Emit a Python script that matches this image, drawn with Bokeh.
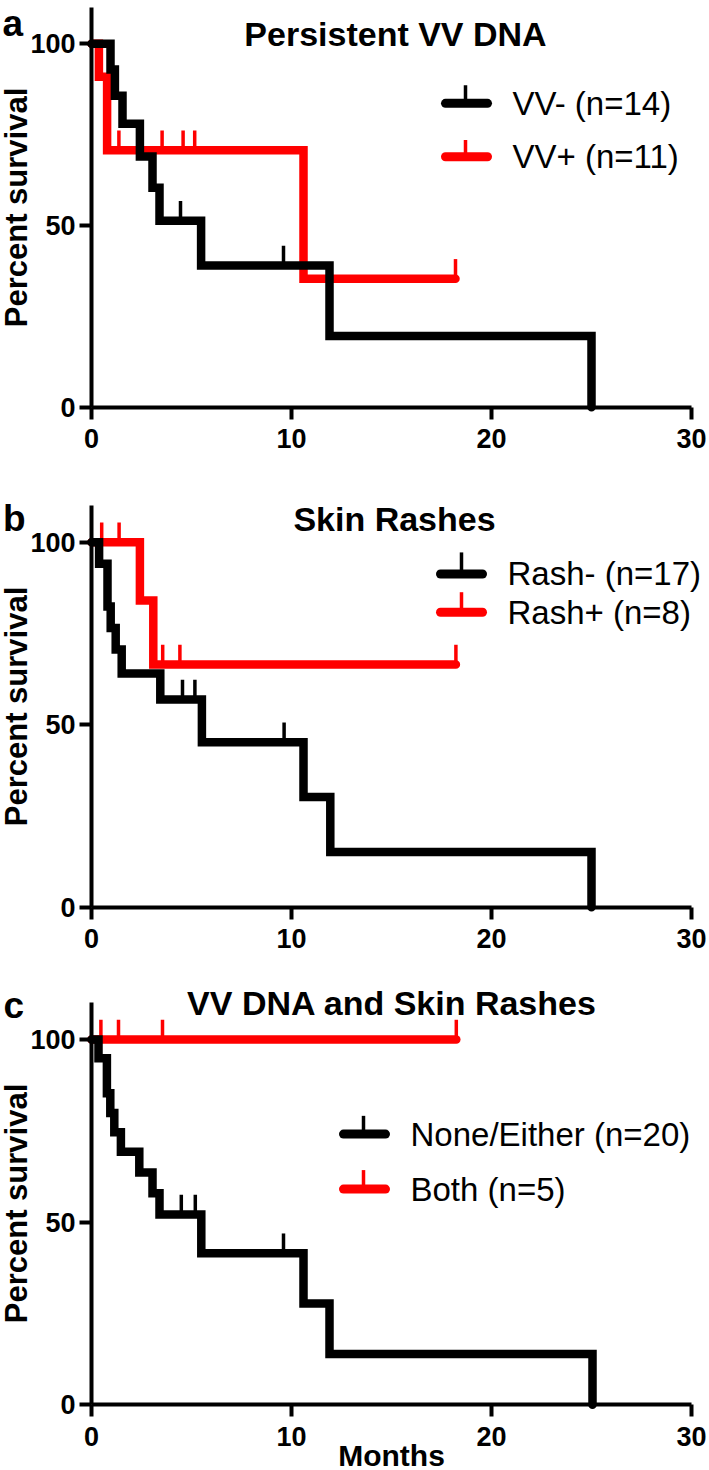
from bokeh.plotting import figure
from bokeh.models import Range1d, Label
from bokeh.layouts import column
from bokeh.embed import file_html
from bokeh.resources import INLINE

# ---------------- data ----------------
x_ticks = [0, 10, 20, 30]
y_ticks = [0, 50, 100]

a_letter = "a"
a_title = "Persistent VV DNA"
a_black_name = "VV- (n=14)"
a_black_t = [0, 0.95, 1.17, 1.55, 2.42, 3.05, 3.40, 5.48, 11.9, 25.0]
a_black_s = [100, 92.9, 85.7, 78.0, 69.0, 60.4, 51.3, 39.0, 19.6, 0]
a_black_cens = [4.45, 9.6]
a_red_name = "VV+ (n=11)"
a_red_t = [0, 0.37, 0.78, 10.6, 18.2]
a_red_s = [100, 90.9, 70.7, 35.35, 35.35]
a_red_cens = [1.37, 3.53, 4.58, 5.16, 18.2]

b_letter = "b"
b_title = "Skin Rashes"
b_black_name = "Rash- (n=17)"
b_black_t = [0, 0.38, 0.80, 0.96, 1.21, 1.51, 3.44, 5.52, 10.6, 11.94, 25.0]
b_black_s = [100, 94.1, 82.4, 76.5, 70.6, 64.0, 56.9, 45.2, 30.2, 15.1, 0]
b_black_cens = [4.55, 5.17, 9.63]
b_red_name = "Rash+ (n=8)"
b_red_t = [0, 2.42, 3.09, 18.22]
b_red_s = [100, 84.0, 66.5, 66.5]
b_red_cens = [0.51, 1.38, 3.56, 4.42, 18.22]

c_letter = "c"
c_title = "VV DNA and Skin Rashes"
c_black_name = "None/Either (n=20)"
c_black_t = [0, 0.35, 0.77, 0.94, 1.14, 1.47, 2.39, 3.05, 3.40, 5.49, 10.6, 11.9, 25.05]
c_black_s = [100, 94.9, 85.3, 79.9, 74.6, 69.3, 63.6, 57.9, 52.1, 41.5, 27.7, 13.9, 0]
c_black_cens = [4.49, 5.19, 9.6]
c_red_name = "Both (n=5)"
c_red_t = [0, 18.24]
c_red_s = [100, 100]
c_red_cens = [0.47, 1.35, 3.55, 18.24]

x_label = "Months"
y_label = "Percent survival"

# ---------------- style ----------------
FONT = "Liberation Sans"
BLACK = "#000000"
RED = "#ff0000"
TICK_LEN = 5.4
LINE_W = 8.5


def level_at(ts, ss, tc):
    lv = ss[0]
    for t, s in zip(ts, ss):
        if t <= tc:
            lv = s
    return lv


def make_panel(height, y_lo, y_hi, letter, letter_pos, title, title_pos,
               series, legend, xlabel=None):
    p = figure(width=709, height=height,
               x_range=Range1d(-4.55, 30.9), y_range=Range1d(y_lo, y_hi),
               output_backend="svg", toolbar_location=None, min_border=0)
    p.outline_line_color = None
    p.grid.visible = False
    p.background_fill_color = "white"
    p.border_fill_color = "white"

    for ax in (p.xaxis[0], p.yaxis[0]):
        ax.fixed_location = 0
        ax.axis_line_width = 4
        ax.axis_line_color = BLACK
        ax.major_tick_line_width = 4
        ax.major_tick_line_color = BLACK
        ax.major_tick_in = 0
        ax.major_tick_out = 12
        ax.minor_tick_line_color = None
        ax.major_label_text_font = FONT
        ax.major_label_text_font_style = "bold"
        ax.major_label_text_font_size = "27px"
        ax.major_label_text_color = BLACK
        ax.axis_label_text_font = FONT
        ax.axis_label_text_font_style = "bold"
        ax.axis_label_text_color = BLACK

    p.xaxis.ticker = x_ticks
    p.yaxis.ticker = y_ticks
    p.xaxis.bounds = (0, 30)
    p.yaxis.bounds = (0, 110)
    p.xaxis.major_label_standoff = 10
    p.yaxis.major_label_standoff = 4
    p.yaxis.axis_label = y_label
    p.yaxis.axis_label_text_font_size = "31px"
    p.yaxis.axis_label_standoff = -7
    if xlabel:
        p.xaxis.axis_label = xlabel
        p.xaxis.axis_label_text_font_size = "30px"
        p.xaxis.axis_label_standoff = -10

    # survival curves (red first, black on top)
    for ts, ss, cens, color in series:
        p.step(x=ts, y=ss, mode="after", line_width=LINE_W, line_color=color,
               line_join="miter", line_cap="round")
        lv = [level_at(ts, ss, c) for c in cens]
        p.segment(x0=cens, y0=lv, x1=cens, y1=[v + TICK_LEN for v in lv],
                  line_width=3.5, line_color=color)

    # legend
    (lx0, lx1, tx, txt_x, entries) = legend
    for name, ly, ttop, color in entries:
        p.segment(x0=[lx0], y0=[ly], x1=[lx1], y1=[ly], line_width=9,
                  line_color=color, line_cap="round")
        p.segment(x0=[tx], y0=[ly], x1=[tx], y1=[ttop], line_width=3.5,
                  line_color=color)
        p.add_layout(Label(x=txt_x, y=ly, text=name, text_font=FONT,
                           text_font_size="33px", text_color=BLACK,
                           text_align="left", text_baseline="middle"))

    p.add_layout(Label(x=title_pos[0], y=title_pos[1], text=title,
                       text_font=FONT, text_font_style="bold",
                       text_font_size="34px", text_color=BLACK,
                       text_align="center", text_baseline="middle"))
    p.add_layout(Label(x=letter_pos[0], y=letter_pos[1], text=letter,
                       text_font=FONT, text_font_style="bold",
                       text_font_size="37px", text_color=BLACK,
                       text_align="left", text_baseline="alphabetic"))
    return p


pa = make_panel(488, -22.37, 111.9, a_letter, (-4.45, 105.6),
                a_title, (15.2, 102.6),
                [(a_red_t, a_red_s, a_red_cens, RED),
                 (a_black_t, a_black_s, a_black_cens, BLACK)],
                (17.7, 19.8, 18.7, 21.05,
                 [(a_black_name, 83.6, 88.6, BLACK),
                  (a_red_name, 68.9, 73.5, RED)]))

pb = make_panel(487, -18.71, 114.71, b_letter, (-4.42, 106.5),
                b_title, (15.15, 106.4),
                [(b_red_t, b_red_s, b_red_cens, RED),
                 (b_black_t, b_black_s, b_black_cens, BLACK)],
                (17.45, 19.55, 18.5, 20.8,
                 [(b_black_name, 91.3, 97.2, BLACK),
                  (b_red_name, 80.8, 86.3, RED)]))

pc = make_panel(495, -17.99, 117.52, c_letter, (-4.4, 109.3),
                c_title, (15.03, 110.1),
                [(c_red_t, c_red_s, c_red_cens, RED),
                 (c_black_t, c_black_s, c_black_cens, BLACK)],
                (12.6, 14.7, 13.6, 15.95,
                 [(c_black_name, 74.1, 79.1, BLACK),
                  (c_red_name, 59.05, 64.25, RED)]),
                xlabel=x_label)

layout = column(pa, pb, pc, spacing=0)
open("out.html", "w").write(file_html(layout, INLINE))
